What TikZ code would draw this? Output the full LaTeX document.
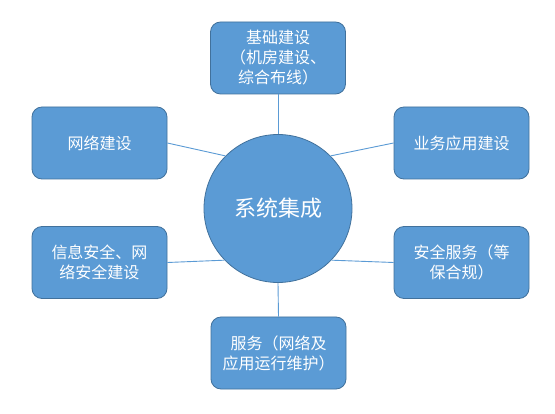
\documentclass[tikz,border=0pt]{standalone}
\usepackage{fontspec}
\newfontfamily\cjk{Noto Sans CJK SC}
\definecolor{boxfill}{HTML}{5B9BD5}
\definecolor{boxline}{HTML}{41719C}
\definecolor{conn}{HTML}{5B9BD5}
\tikzset{
  leaf/.style={draw=boxline, line width=0.8pt, fill=boxfill, rounded corners=10pt,
    minimum width=135pt, minimum height=72pt, inner sep=2pt, text=white, align=center,
    font=\cjk\fontsize{16}{20}\selectfont},
  hub/.style={draw=boxline, line width=0.8pt, fill=boxfill, circle, minimum size=148pt,
    inner sep=0pt, text=white, font=\cjk\fontsize{22}{26}\selectfont},
  link/.style={draw=conn, line width=0.9pt}
}
\begin{document}
\begin{tikzpicture}[x=1pt,y=1pt]
\useasboundingbox[fill=white] (0,0) rectangle (555,413);
\node[hub] (c) at (278,204.5) {系统集成};
\node[leaf] (t) at (278,355) {基础建设\\（机房建设、\\综合布线）};
\node[leaf] (lt) at (99.5,270) {网络建设};
\node[leaf] (lb) at (99.5,150.5) {信息安全、网\\络安全建设};
\node[leaf] (rt) at (461.5,270) {业务应用建设};
\node[leaf] (rb) at (461.5,150.5) {安全服务（等\\保合规）};
\node[leaf] (b) at (278.5,60) {服务（网络及\\应用运行维护）};
\draw[link] (t.south) -- (c.north);
\draw[link] (c.south) -- (b.north);
\draw[link] (lt.east) -- (c.135);
\draw[link] (lb.east) -- (c.224);
\draw[link] (rt.west) -- (c.45);
\draw[link] (rb.west) -- (c.316);
\end{tikzpicture}
\end{document}
